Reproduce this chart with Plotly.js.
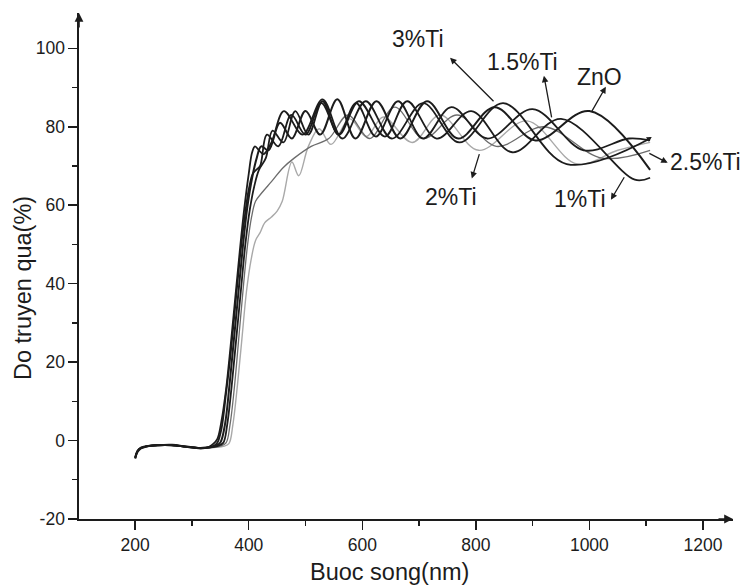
<!DOCTYPE html>
<html>
<head>
<meta charset="utf-8">
<script src="https://cdn.plot.ly/plotly-3.0.1.min.js"></script>
<style>html,body{margin:0;padding:0;background:#fff;}#chart{width:747px;height:585px;}</style>
</head>
<body>
<div id="chart"></div>
<script>
// Wavelength (nm) / transmittance (%)
const znoX = [200,204,210,220,240,265,290,315,330,342,350,358,366,374,382,390,398,406,414,422,435,455,476,500,526,556,588,625,667,714,769,833,905,1000,1107];
const znoY = [-4.6,-2.9,-2,-1.5,-1.2,-1.1,-1.6,-2,-1.8,-1.3,-0.5,4,14,26,38,50,60,67,72,75,74,81,77,84,78,87,77,86.5,77,86.5,77,85,76.5,84,69];

const ti1X = [200,204,210,220,240,265,290,315,330,340,345,352,360,368,376,384,392,400,407,413,420,432,452,475,500,528,559,594,640,679,731,792,864,950,1080,1107];
const ti1Y = [-4.2,-2.6,-1.8,-1.4,-1.1,-1.2,-1.5,-1.9,-1.7,-1.2,-0.5,3,12,22,34,46,56,64,68,69,70,78,75,83,78,86,78,86.5,77.5,86.5,77,84,73.5,82,66.5,67];

const ti15X = [200,204,210,220,240,265,290,315,330,345,355,362,370,378,386,394,402,410,418,430,442,461,482,505,530,558,589,624,663,707,757,820,900,990,1070,1107];
const ti15Y = [-4.4,-2.7,-1.9,-1.5,-1.2,-1.2,-1.6,-1.9,-1.8,-1.4,-0.6,4,14,26,38,50,59,65,69,72,79,76,84,78,86.5,78,86,77.5,86.5,77,85,77,84.5,74,77,76.5];

const ti2X = [200,204,210,220,240,265,290,315,330,355,365,372,380,388,396,404,412,420,428,440,450,459,476,488,505,524,545,578,607,637,688,737,805,890,978,1050,1107];
const ti2Y = [-4.5,-2.8,-2,-1.5,-1.2,-1.2,-1.6,-2,-1.9,-1.5,-0.8,4,14,26,38,46,51,53,55.5,57,58.5,61,71,67.5,75,79.5,75.5,82,77.5,82.5,76,83,74,81.5,70.5,74,76];

const ti25X = [200,204,210,220,240,265,290,315,330,350,360,367,375,383,391,398,405,412,425,440,460,480,510,541,575,613,657,708,767,836,920,1022,1107];
const ti25Y = [-4.3,-2.7,-1.9,-1.5,-1.2,-1.2,-1.6,-1.9,-1.8,-1.4,-0.6,4,14,27,40,50,57,61,63.5,66,69.5,72,75,77,83,77,85,77,83,75,80,72,74];

const ti3X = [200,204,210,220,240,265,290,315,330,338,345,352,360,368,376,384,392,400,406,411,418,426,440,462,495,530,565,606,652,707,771,848,960,1107];
const ti3Y = [-4.5,-2.8,-1.9,-1.5,-1.2,-1.2,-1.6,-1.9,-1.6,-0.8,0.5,5,13,24,36,48,59,68,73.5,75,74,73,76,84,78,87,77,86.5,77,86,76,86,70.5,77];

const seriesNames = ['ZnO','1%Ti','1.5%Ti','2%Ti','2.5%Ti','3%Ti'];
const xTicks = [200,400,600,800,1000,1200];
const xTickLabels = ['200','400','600','800','1000','1200'];
const yTicks = [-20,0,20,40,60,80,100];
const yTickLabels = ['-20','0','20','40','60','80','100'];
const xTitle = 'Buoc song(nm)';
const yTitle = 'Do truyen qua(%)';

const INK = '#1c1c1c';
function tr(x, y, name, color, width) {
  return {x: x, y: y, name: name, type: 'scatter', mode: 'lines',
    line: {color: color, width: width, shape: 'spline', smoothing: 1},
    hoverinfo: 'x+y+name'};
}
const data = [
  tr(ti2X, ti2Y, seriesNames[3], '#a9a9a9', 1.4),
  tr(ti25X, ti25Y, seriesNames[4], '#6c6c6c', 1.3),
  tr(ti1X, ti1Y, seriesNames[1], INK, 1.8),
  tr(ti15X, ti15Y, seriesNames[2], INK, 1.8),
  tr(ti3X, ti3Y, seriesNames[5], INK, 1.8),
  tr(znoX, znoY, seriesNames[0], INK, 2.0)
];

const labelFont = {family: 'Liberation Sans, Arial, sans-serif', size: 23, color: INK};
function label(text, x, y) {
  return {text: text, x: x, y: y, xref: 'x', yref: 'y', showarrow: false,
    xanchor: 'center', yanchor: 'middle', font: labelFont};
}
function pointer(hx, hy, tx, ty) {
  return {text: '', x: hx, y: hy, ax: tx, ay: ty, xref: 'x', yref: 'y', axref: 'x', ayref: 'y',
    showarrow: true, arrowhead: 2, arrowsize: 1, arrowwidth: 1.3, arrowcolor: INK, standoff: 0, startstandoff: 0};
}

const layout = {
  width: 747, height: 585,
  margin: {l: 79, r: 14, t: 13, b: 66},
  paper_bgcolor: '#ffffff', plot_bgcolor: '#ffffff',
  showlegend: false,
  font: {family: 'Liberation Sans, Arial, sans-serif', color: INK},
  xaxis: {
    range: [101, 1253], tickmode: 'array', tickvals: xTicks, ticktext: xTickLabels,
    ticks: 'outside', ticklen: 9, tickwidth: 1.5, tickcolor: INK,
    showline: true, linecolor: INK, linewidth: 1.6, showgrid: false, zeroline: false,
    tickfont: {size: 17.5, color: INK},
    minor: {tick0: 100, dtick: 100, ticks: 'outside', ticklen: 5, tickwidth: 1.3, tickcolor: INK, showgrid: false}
  },
  yaxis: {
    range: [-20, 109], tickmode: 'array', tickvals: yTicks, ticktext: yTickLabels,
    ticks: 'outside', ticklen: 9, tickwidth: 1.5, tickcolor: INK,
    showline: true, linecolor: INK, linewidth: 1.6, showgrid: false, zeroline: false,
    tickfont: {size: 17.5, color: INK},
    minor: {tick0: 0, dtick: 10, ticks: 'outside', ticklen: 5, tickwidth: 1.3, tickcolor: INK, showgrid: false}
  },
  annotations: [
    {text: xTitle, xref: 'paper', yref: 'paper', x: 0.4755, y: -0.1047, showarrow: false,
      xanchor: 'center', yanchor: 'middle', font: {size: 23.5, color: INK}},
    {text: yTitle, xref: 'paper', yref: 'paper', x: -0.0856, y: 0.4565, showarrow: false, textangle: -90,
      xanchor: 'center', yanchor: 'middle', font: {size: 23.5, color: INK}},
    // axis arrow heads
    {text: '', xref: 'paper', yref: 'paper', x: 0, y: 1, ax: 0, ay: 16, showarrow: true,
      arrowhead: 2, arrowsize: 1.1, arrowwidth: 1.6, arrowcolor: INK},
    {text: '', xref: 'paper', yref: 'paper', x: 1, y: 0, ax: -16, ay: 0, showarrow: true,
      arrowhead: 2, arrowsize: 1.1, arrowwidth: 1.6, arrowcolor: INK},
    label('3%Ti', 698, 102.5),
    label('1.5%Ti', 882, 96.6),
    label('ZnO', 1017, 92.7),
    label('2.5%Ti', 1205, 71),
    label('2%Ti', 757, 62.2),
    label('1%Ti', 983, 61.7),
    pointer(754.6, 97.6, 833.8, 86.1),
    pointer(920, 93, 934, 82),
    pointer(1029, 90.2, 1003, 83.6),
    pointer(1138, 70.8, 1103, 73.4),
    pointer(793, 66.8, 807, 73.4),
    pointer(1038, 61.4, 1063, 67.5),
    {text: '', x: 1110, y: 77.4, ax: 1098, ay: 76.4, xref: 'x', yref: 'y', axref: 'x', ayref: 'y',
      showarrow: true, arrowhead: 2, arrowsize: 0.8, arrowwidth: 1.3, arrowcolor: INK}
  ]
};

Plotly.newPlot('chart', data, layout, {staticPlot: true, displayModeBar: false});
</script>
</body>
</html>
